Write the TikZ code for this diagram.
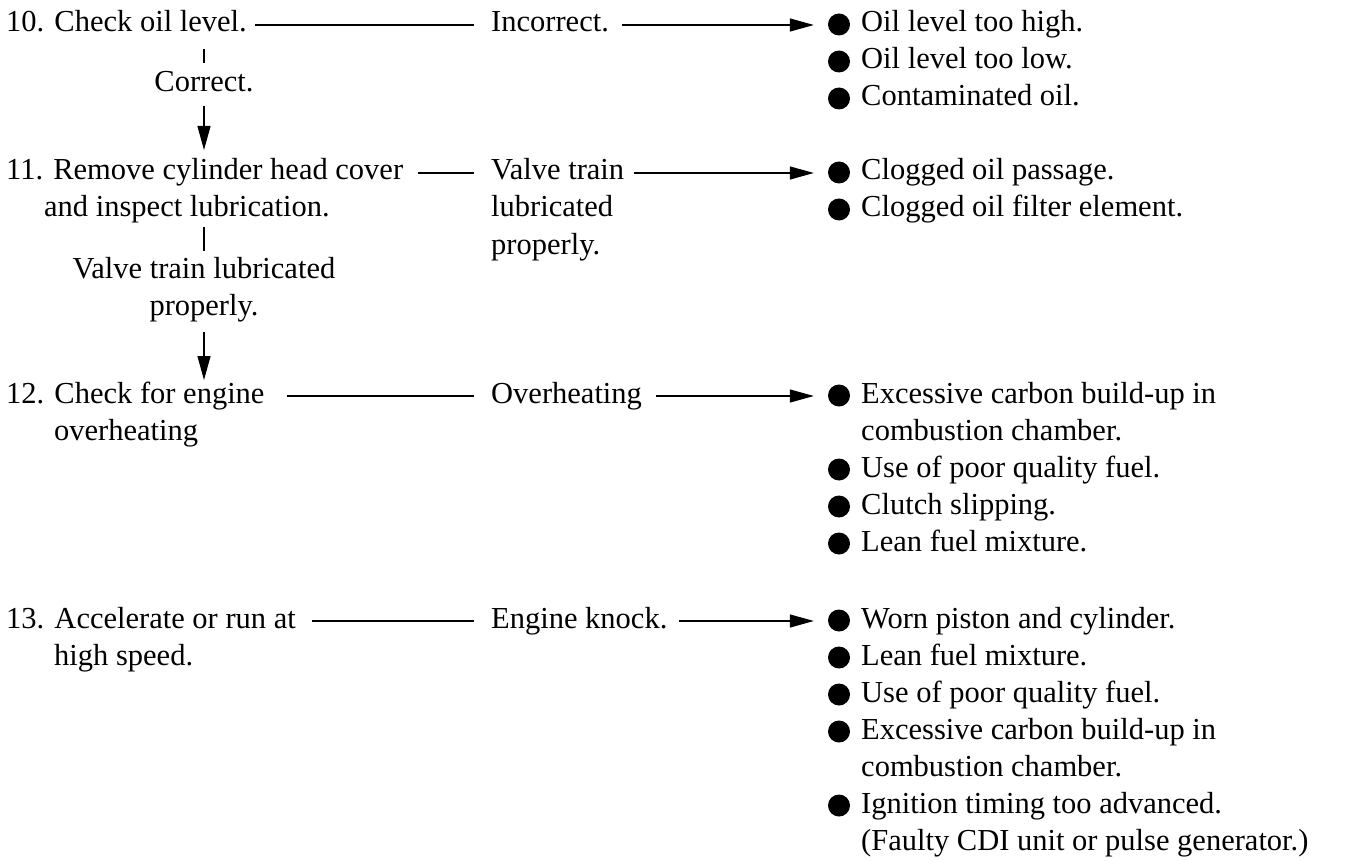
\documentclass[tikz,border=0pt]{standalone}
\usepackage{fontspec}
\setmainfont{Liberation Serif}
\usetikzlibrary{arrows.meta}
\begin{document}
\begin{tikzpicture}[x=1pt,y=-1pt,
  txt/.style={inner sep=0pt, anchor=base west, font=\fontsize{30.5}{37}\selectfont},
  ctr/.style={txt, anchor=base},
  dot/.style={circle, fill=black, inner sep=0pt, minimum size=22pt},
  link/.style={line width=1.2pt},
  arr/.style={line width=1.2pt, -{Triangle[length=24pt,width=13pt]}}
]
\useasboundingbox (0,0) rectangle (1346,861);

% left column
\node[txt] (s10) at (6,32) {10. Check oil level.};
\node[ctr] (c10) at (204,92) {Correct.};
\node[txt] (s11) at (6,180) {11. Remove cylinder head cover};
\node[txt] (s11b) at (44,217) {and inspect lubrication.};
\node[ctr] (v1) at (204,278) {Valve train lubricated};
\node[ctr] (v2) at (204,315) {properly.};
\node[txt] (s12) at (6,403) {12. Check for engine};
\node[txt] (s12b) at (54,440) {overheating};
\node[txt] (s13) at (6,628) {13. Accelerate or run at};
\node[txt] (s13b) at (54,665) {high speed.};

% middle column
\node[txt] (m10) at (491,32) {Incorrect.};
\node[txt] (m11) at (491,180) {Valve train};
\node[txt] (m11b) at (491,217) {lubricated};
\node[txt] (m11c) at (491,254) {properly.};
\node[txt] (m12) at (491,403) {Overheating};
\node[txt] (m13) at (491,628) {Engine knock.};

% right column
\node[dot] (d10a) at (839,24.5) {};
\node[txt] (r10a) at (861,32) {Oil level too high.};
\node[dot] (d10b) at (839,61.5) {};
\node[txt] (r10b) at (861,69) {Oil level too low.};
\node[dot] (d10c) at (839,98.5) {};
\node[txt] (r10c) at (861,106) {Contaminated oil.};

\node[dot] (d11a) at (839,172.5) {};
\node[txt] (r11a) at (861,180) {Clogged oil passage.};
\node[dot] (d11b) at (839,209.5) {};
\node[txt] (r11b) at (861,217) {Clogged oil filter element.};

\node[dot] (d12a) at (839,395.5) {};
\node[txt] (r12a) at (861,403) {Excessive carbon build-up in};
\node[txt] (r12a2) at (861,440) {combustion chamber.};
\node[dot] (d12b) at (839,469.5) {};
\node[txt] (r12b) at (861,477) {Use of poor quality fuel.};
\node[dot] (d12c) at (839,506.5) {};
\node[txt] (r12c) at (861,514) {Clutch slipping.};
\node[dot] (d12d) at (839,543.5) {};
\node[txt] (r12d) at (861,551) {Lean fuel mixture.};

\node[dot] (d13a) at (839,620.5) {};
\node[txt] (r13a) at (861,628) {Worn piston and cylinder.};
\node[dot] (d13b) at (839,657.5) {};
\node[txt] (r13b) at (861,665) {Lean fuel mixture.};
\node[dot] (d13c) at (839,694.5) {};
\node[txt] (r13c) at (861,702) {Use of poor quality fuel.};
\node[dot] (d13d) at (839,731.5) {};
\node[txt] (r13d) at (861,739) {Excessive carbon build-up in};
\node[txt] (r13d2) at (861,776) {combustion chamber.};
\node[dot] (d13e) at (839,805.5) {};
\node[txt] (r13e) at (861,813) {Ignition timing too advanced.};
\node[txt] (r13e2) at (861,850) {(Faulty CDI unit or pulse generator.)};

% horizontal connectors
\draw[link, shorten <=8pt, shorten >=17pt] ([yshift=7pt]s10.base east) -- ([yshift=7pt]m10.base west);
\draw[arr, shorten <=13pt, shorten >=14pt] ([yshift=7pt]m10.base east) -- ([yshift=7pt]m10.base east -| d10a.west);
\draw[link, shorten <=15pt, shorten >=17pt] ([yshift=7pt]s11.base east) -- ([yshift=7pt]m11.base west);
\draw[arr, shorten <=10pt, shorten >=14pt] ([yshift=7pt]m11.base east) -- ([yshift=7pt]m11.base east -| d11a.west);
\draw[link, shorten <=22pt, shorten >=17pt] ([yshift=7pt]s12.base east) -- ([yshift=7pt]m12.base west);
\draw[arr, shorten <=14pt, shorten >=14pt] ([yshift=7pt]m12.base east) -- ([yshift=7pt]m12.base east -| d12a.west);
\draw[link, shorten <=16pt, shorten >=17pt] ([yshift=7pt]s13.base east) -- ([yshift=7pt]m13.base west);
\draw[arr, shorten <=11pt, shorten >=14pt] ([yshift=7pt]m13.base east) -- ([yshift=7pt]m13.base east -| d13a.west);

% vertical connectors
\draw[link, shorten <=17pt, shorten >=9pt] (c10.north |- s10.base) -- (c10.north);
\draw[arr, shorten <=14pt, shorten >=30pt] (c10.base) -- (c10.base |- s11.base);
\draw[link, shorten <=10pt, shorten >=27pt] (v1.base |- s11b.base) -- (v1.base);
\draw[arr, shorten <=17pt, shorten >=23pt] (v2.base) -- (v2.base |- s12.base);
\end{tikzpicture}
\end{document}
